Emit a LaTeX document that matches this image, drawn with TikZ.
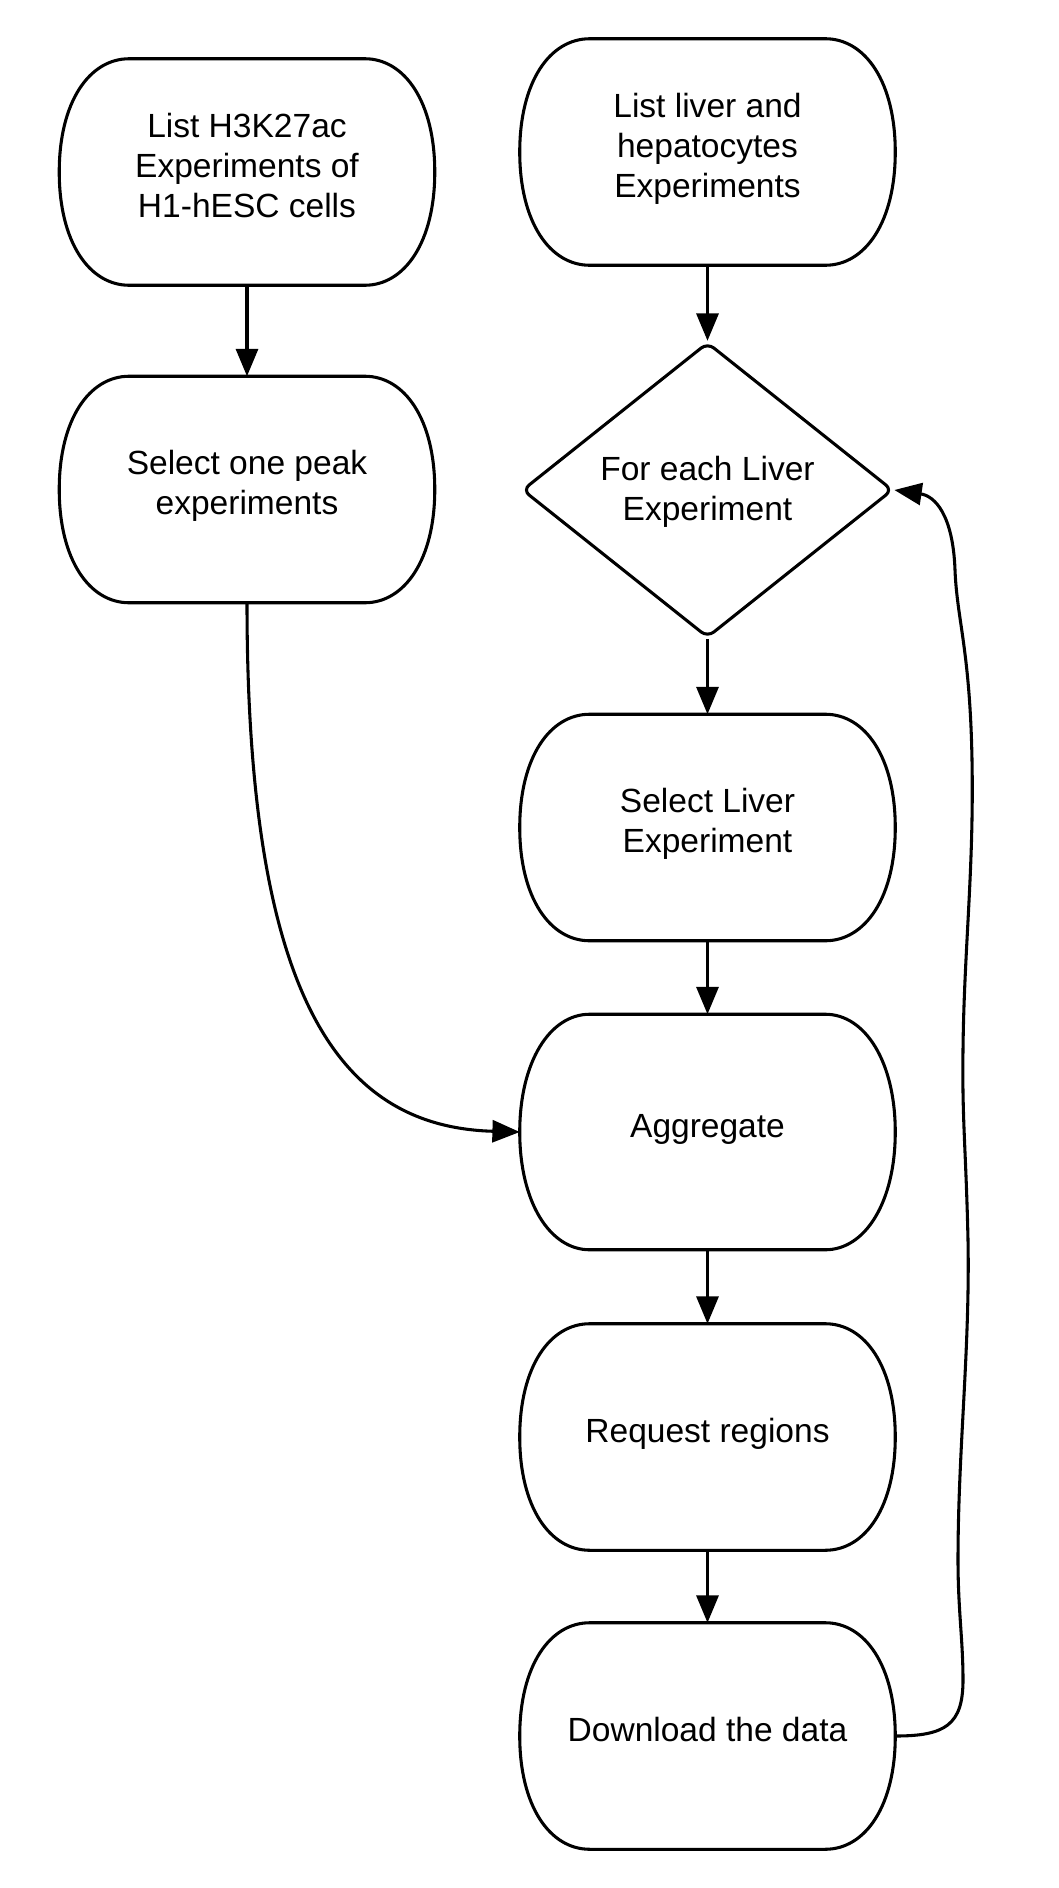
\documentclass[tikz,border=0pt]{standalone}
\usepackage{fontspec}
\setmainfont{Liberation Sans}
\usetikzlibrary{arrows.meta,calc,shapes.geometric}
\newcommand\lnst{\rule[-10.9pt]{0pt}{30pt}}
\newcommand\dmst{\rule[-10.9pt]{0pt}{37.5pt}}
\newcommand\txtfont{\fontsize{25.15pt}{30pt}\selectfont}
\newcommand\pillpath[1]{%
  \draw[outline] ($(#1.north west)+(70,0)$) -- ($(#1.north east)+(-70,0)$)
    .. controls ($(#1.north east)+(-30,0)$) and ($(#1.east)+(0,-70)$) .. (#1.east)
    .. controls ($(#1.east)+(0,70)$) and ($(#1.south east)+(-30,0)$) .. ($(#1.south east)+(-70,0)$)
    -- ($(#1.south west)+(70,0)$)
    .. controls ($(#1.south west)+(30,0)$) and ($(#1.west)+(0,70)$) .. (#1.west)
    .. controls ($(#1.west)+(0,-70)$) and ($(#1.north west)+(30,0)$) .. cycle;}
\tikzset{
  pillbox/.style={rectangle, minimum width=281.25pt, minimum height=169.5pt,
    inner sep=0pt, align=center, font=\txtfont},
  decision/.style={diamond, draw, line width=2.3pt, aspect=1.255,
    minimum width=278pt, minimum height=221.5pt, inner sep=0pt,
    rounded corners=6pt, align=center, font=\txtfont},
  outline/.style={line width=2.3pt, line join=round},
  conn/.style={line width=2.3pt, -{Triangle[length=20.5pt,width=16.5pt]}}
}
\begin{document}
\begin{tikzpicture}[x=0.75pt,y=-0.75pt]
\useasboundingbox (0,0) rectangle (1059,1888);
\node[pillbox] (A) at (247,172) {\lnst List H3K27ac\\\lnst Experiments of\\\lnst H1-hESC cells};
\node[pillbox] (B) at (247,489.5) {\lnst Select one peak\\\lnst experiments};
\node[pillbox] (C) at (707.5,152) {\lnst List liver and\\\lnst hepatocytes\\\lnst Experiments};
\node[decision] (D) at (707.5,490) {\dmst For each Liver\\\lnst Experiment};
\node[pillbox] (E) at (707.5,827.5) {\lnst Select Liver\\\lnst Experiment};
\node[pillbox, minimum height=176.25pt] (F) at (707.5,1132) {\lnst Aggregate};
\node[pillbox] (G) at (707.5,1437) {\lnst Request regions};
\node[pillbox] (H) at (707.5,1736) {\lnst Download the data};
\foreach \n in {A,B,C,E,F,G,H} {\pillpath{\n}}
\draw[conn] (A.south) -- (B.north);
\draw[conn] (C.south) -- (D.north);
\draw[conn] (D.south) -- (E.north);
\draw[conn] (E.south) -- (F.north);
\draw[conn] (F.south) -- (G.north);
\draw[conn] (G.south) -- (H.north);
\draw[conn] (B.south) .. controls (247,1000) and (340,1127) .. (F.west);
\draw[conn] (H.east) .. controls (945,1736) and (963,1725) .. (963,1680)
  .. controls (963,1640) and (958,1610) .. (958,1560)
  .. controls (958,1450) and (970,1350) .. (968,1240)
  .. controls (966,1150) and (962,1120) .. (963,1050)
  .. controls (964,950) and (974,870) .. (972,760)
  .. controls (970,650) and (957,620) .. (955,570)
  .. controls (953,515) and (935,496) .. (D.east);
\end{tikzpicture}
\end{document}
